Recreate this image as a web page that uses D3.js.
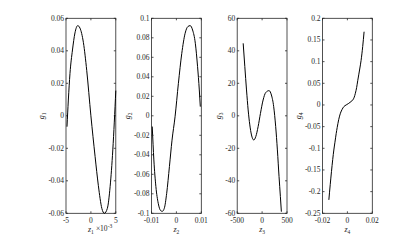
<!DOCTYPE html>
<html>
<head>
<meta charset="utf-8">
<script src="https://d3js.org/d3.v7.min.js"></script>
<style>
  body { margin: 0; background: #fff; }
  text { font-family: "Liberation Serif", "DejaVu Serif", serif; }
</style>
</head>
<body>
<div id="chart"></div>
<script>
// curve samples
const z1 = [-0.0048, -0.00453, -0.0042, -0.0037, -0.0032, -0.00265, -0.0022, -0.0015, -0.00084, 0, 0.00084, 0.0015, 0.0022, 0.0027, 0.0033, 0.00386, 0.0044, 0.005];
const g1 = [-0.0067, 0.0097, 0.026, 0.0405, 0.051, 0.0555, 0.054, 0.045, 0.028, 0, -0.025, -0.043, -0.057, -0.06, -0.057, -0.0436, -0.021, 0.0155];

const z2 = [-0.0097, -0.00905, -0.00824, -0.0073, -0.0063, -0.00568, -0.00486, -0.0039, -0.0028, -0.00176, -0.00054, 0.0008, 0.00216, 0.0035, 0.0046, 0.00554, 0.0065, 0.0076, 0.0085, 0.0092, 0.0096];
const g2 = [-0.011, -0.0453, -0.0726, -0.0897, -0.0973, -0.098, -0.0949, -0.0795, -0.052, -0.025, -0.001, 0.0333, 0.064, 0.0846, 0.0915, 0.0925, 0.088, 0.0744, 0.0504, 0.0265, 0.0094];

const z3 = [-380, -347, -313, -280, -247, -213, -167, -127, -80, -33, 20, 73, 140, 187, 233, 273, 307, 340, 367, 387];
const g3 = [44.6, 30.3, 15.9, 3.6, -5.6, -11.8, -14.9, -12.8, -6.7, 1.5, 9.7, 14.3, 15.5, 12.8, 5.6, -6.7, -21, -37.4, -49.7, -59];

const z4 = [-0.0149, -0.0138, -0.0128, -0.0118, -0.0109, -0.0100, -0.0090, -0.0082, -0.0070, -0.0056, -0.0042, -0.0029, -0.0010, 0.0011, 0.0030, 0.0043, 0.0055, 0.0064, 0.0074, 0.0083, 0.0099, 0.0110, 0.0123, 0.0134];
const g4 = [-0.219, -0.184, -0.154, -0.126, -0.104, -0.086, -0.066, -0.052, -0.034, -0.019, -0.010, -0.004, 0.000, 0.0038, 0.008, 0.0115, 0.018, 0.027, 0.040, 0.056, 0.083, 0.103, 0.135, 0.169];

// axis limits and tick labels
const xLims = [[-0.005, 0.005], [-0.01, 0.01], [-500, 500], [-0.02, 0.02]];
const yLims = [[-0.06, 0.06], [-0.1, 0.1], [-60, 60], [-0.25, 0.2]];
const xTicks = [[-0.005, 0, 0.005], [-0.01, 0, 0.01], [-500, 0, 500], [-0.02, 0, 0.02]];
const xTickLabels = [["-5", "0", "5"], ["-0.01", "0", "0.01"], ["-500", "0", "500"], ["-0.02", "0", "0.02"]];
const yTicks = [
  [-0.06, -0.04, -0.02, 0, 0.02, 0.04, 0.06],
  [-0.1, -0.08, -0.06, -0.04, -0.02, 0, 0.02, 0.04, 0.06, 0.08, 0.1],
  [-60, -40, -20, 0, 20, 40, 60],
  [-0.25, -0.2, -0.15, -0.1, -0.05, 0, 0.05, 0.1, 0.15, 0.2]
];
const yTickLabels = [
  ["-0.06", "-0.04", "-0.02", "0", "0.02", "0.04", "0.06"],
  ["-0.1", "-0.08", "-0.06", "-0.04", "-0.02", "0", "0.02", "0.04", "0.06", "0.08", "0.1"],
  ["-60", "-40", "-20", "0", "20", "40", "60"],
  ["-0.25", "-0.2", "-0.15", "-0.1", "-0.05", "0", "0.05", "0.1", "0.15", "0.2"]
];
const zs = [z1, z2, z3, z4];
const gs = [g1, g2, g3, g4];

const width = 415, height = 241;
const lefts = [66, 151.5, 237.2, 322.5];
const pw = 49.8, plotTop = 18.3, ph = 195;
const axisColor = "#262626";
const fontSize = 7.5;
const tickLen = 2;

const svg = d3.select("#chart").append("svg")
  .attr("width", width)
  .attr("height", height);

lefts.forEach((left, i) => {
  const x = d3.scaleLinear().domain(xLims[i]).range([left, left + pw]);
  const y = d3.scaleLinear().domain(yLims[i]).range([plotTop + ph, plotTop]);
  const g = svg.append("g");

  // box
  g.append("rect")
    .attr("x", left).attr("y", plotTop)
    .attr("width", pw).attr("height", ph)
    .attr("fill", "none")
    .attr("stroke", axisColor)
    .attr("stroke-width", 0.8);

  // y ticks (inside, both sides)
  yTicks[i].forEach((t, k) => {
    const yy = y(t);
    g.append("line").attr("x1", left).attr("x2", left + tickLen)
      .attr("y1", yy).attr("y2", yy).attr("stroke", axisColor).attr("stroke-width", 0.8);
    g.append("line").attr("x1", left + pw).attr("x2", left + pw - tickLen)
      .attr("y1", yy).attr("y2", yy).attr("stroke", axisColor).attr("stroke-width", 0.8);
    g.append("text")
      .attr("class", "ytick")
      .attr("x", left - 2).attr("y", yy)
      .attr("dy", "0.33em")
      .attr("text-anchor", "end")
      .attr("font-size", fontSize)
      .attr("fill", axisColor)
      .text(yTickLabels[i][k]);
  });

  // x ticks (inside, top and bottom)
  xTicks[i].forEach((t, k) => {
    const xx = x(t);
    g.append("line").attr("x1", xx).attr("x2", xx)
      .attr("y1", plotTop + ph).attr("y2", plotTop + ph - tickLen)
      .attr("stroke", axisColor).attr("stroke-width", 0.8);
    g.append("line").attr("x1", xx).attr("x2", xx)
      .attr("y1", plotTop).attr("y2", plotTop + tickLen)
      .attr("stroke", axisColor).attr("stroke-width", 0.8);
    g.append("text")
      .attr("x", xx).attr("y", plotTop + ph + 10)
      .attr("text-anchor", "middle")
      .attr("font-size", fontSize)
      .attr("fill", axisColor)
      .text(xTickLabels[i][k]);
  });

  // y label, left of widest tick label
  const maxW = d3.max(g.selectAll("text.ytick").nodes(), n => n.getBBox().width);
  const ylab = g.append("text")
    .attr("transform", `translate(${left - 2 - maxW - 4},${plotTop + ph / 2}) rotate(-90)`)
    .attr("text-anchor", "middle")
    .attr("font-size", 8)
    .attr("fill", axisColor);
  ylab.append("tspan").attr("font-style", "italic").text("g");
  ylab.append("tspan").attr("font-size", 5.5).attr("dy", 2).text(i + 1);

  // x label
  const xlab = g.append("text")
    .attr("x", left + pw / 2).attr("y", plotTop + ph + 19)
    .attr("text-anchor", "middle")
    .attr("font-size", 8)
    .attr("fill", axisColor);
  xlab.append("tspan").attr("font-style", "italic").text("z");
  xlab.append("tspan").attr("font-size", 5.5).attr("dy", 2).text(i + 1);

  if (i === 0) {
    const ex = g.append("text")
      .attr("x", left + pw / 2 + 5).attr("y", plotTop + ph + 18)
      .attr("font-size", fontSize)
      .attr("fill", axisColor);
    ex.append("tspan").text("\u00d710");
    ex.append("tspan").attr("font-size", 5.5).attr("dy", -3).text("-3");
  }

  // curve
  const line = d3.line()
    .x((d, k) => x(zs[i][k]))
    .y(d => y(d))
    .curve(d3.curveMonotoneX);
  g.append("path")
    .attr("d", line(gs[i]))
    .attr("fill", "none")
    .attr("stroke", "#000")
    .attr("stroke-width", 1);
});
</script>
</body>
</html>
